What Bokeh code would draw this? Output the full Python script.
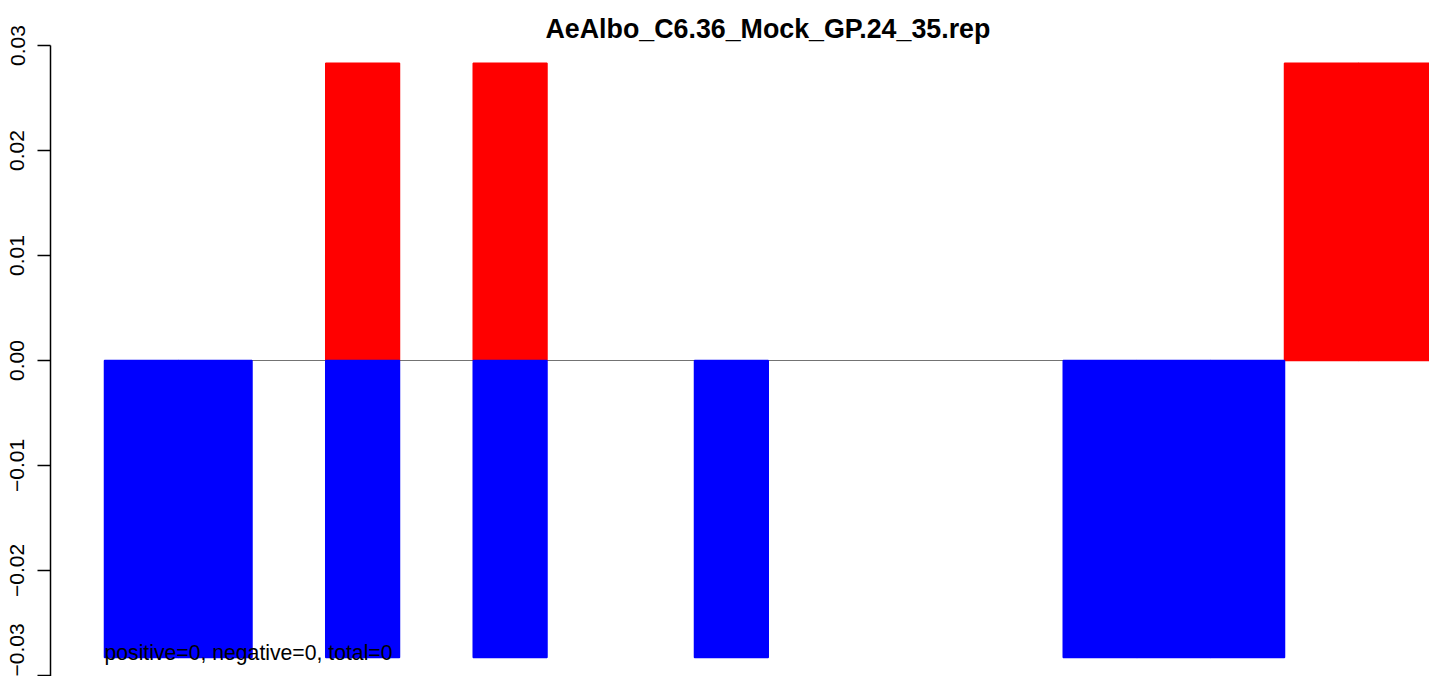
from bokeh.plotting import figure
from bokeh.models import Range1d, FixedTicker, CustomJSTickFormatter, ColumnDataSource
from bokeh.core.properties import value
from bokeh.embed import file_html
from bokeh.resources import INLINE

title_text = "AeAlbo_C6.36_Mock_GP.24_35.rep"
note_text = "positive=0, negative=0, total=0"

positions = list(range(18))
neg_values = [-0.0283, -0.0283, 0, -0.0283, 0, -0.0283, 0, 0, -0.0283,
              0, 0, 0, 0, -0.0283, -0.0283, -0.0283, 0, 0]
pos_values = [0, 0, 0, 0.0283, 0, 0.0283, 0, 0, 0,
              0, 0, 0, 0, 0, 0, 0, 0.0283, 0.0283]

y_ticks = [-0.03, -0.02, -0.01, 0.0, 0.01, 0.02, 0.03]
y_tick_labels = ["\u22120.03", "\u22120.02", "\u22120.01", "0.00", "0.01", "0.02", "0.03"]

FONT = "Liberation Sans"

p = figure(width=1429, height=676,
           x_range=Range1d(-0.732, 17.966),
           y_range=Range1d(-0.0301, 0.03),
           output_backend="svg", toolbar_location=None,
           x_axis_location=None,
           min_border_left=50, min_border_top=45,
           min_border_right=0, min_border_bottom=0,
           title=title_text)

p.outline_line_color = None
p.grid.visible = False
p.background_fill_color = "white"
p.border_fill_color = "white"

p.title.align = "left"
p.title.offset = 495
p.title.text_font = FONT
p.title.text_font_style = "bold"
p.title.text_font_size = "26.8px"
p.title.text_color = "black"
p.title.standoff = 4

ax = p.yaxis[0]
ax.ticker = FixedTicker(ticks=y_ticks)
ax.formatter = CustomJSTickFormatter(
    args=dict(tick_vals=y_ticks, tick_labels=y_tick_labels),
    code="const i = tick_vals.findIndex(t => Math.abs(t - tick) < 1e-9); return i >= 0 ? tick_labels[i] : '';")
ax.major_label_orientation = "vertical"
ax.major_label_text_font = FONT
ax.major_label_text_font_size = "21px"
ax.major_label_text_color = "black"
ax.major_label_standoff = 13
ax.major_tick_out = 13
ax.major_tick_in = 0
ax.minor_tick_out = 0
ax.minor_tick_in = 0
ax.axis_line_width = 1.5
ax.major_tick_line_width = 1.5
ax.axis_line_color = "black"
ax.major_tick_line_color = "black"

# zero baseline
p.segment(x0=[positions[0]], y0=[0], x1=[positions[-1] + 1], y1=[0],
          line_color="#737373", line_width=1.2)

pos_src = ColumnDataSource(dict(
    x=[k + 0.5 for k, v in zip(positions, pos_values) if v != 0],
    top=[v for v in pos_values if v != 0]))
neg_src = ColumnDataSource(dict(
    x=[k + 0.5 for k, v in zip(positions, neg_values) if v != 0],
    bottom=[v for v in neg_values if v != 0]))

p.vbar(x="x", width=1, bottom=0, top="top", source=pos_src,
       fill_color="#ff0000", line_color="#ff0000", line_width=1.5)
p.vbar(x="x", width=1, bottom="bottom", top=0, source=neg_src,
       fill_color="#0000ff", line_color="#0000ff", line_width=1.5)

p.text(x=[positions[0]], y=[min(neg_values)], text=[note_text],
       text_font=value(FONT), text_font_size="21.2px",
       text_align="left", text_baseline="bottom", y_offset=6,
       text_color="black")

open("out.html", "w").write(file_html(p, INLINE))
